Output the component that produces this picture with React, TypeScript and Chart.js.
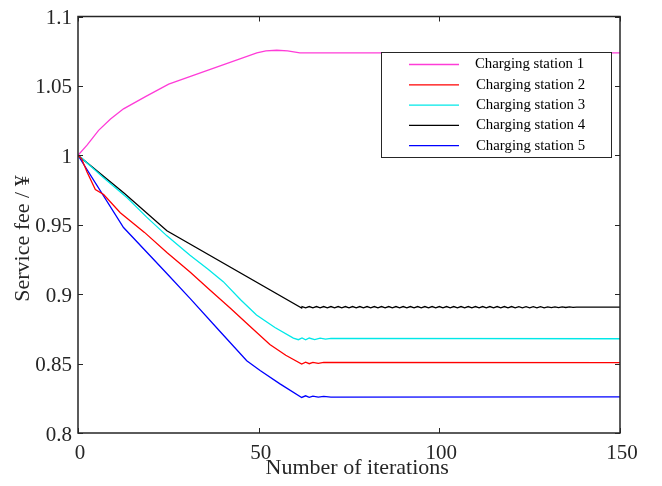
import React, { useEffect, useRef } from "react";
import { Chart, registerables } from "chart.js";

Chart.register(...registerables);

// ---------- data ----------
const seriesLabels = [
  "Charging station 1",
  "Charging station 2",
  "Charging station 3",
  "Charging station 4",
  "Charging station 5",
];
const seriesColors = ["#ff3cd8", "#ff0000", "#00e8e8", "#000000", "#0000ff"];

const xTicks = [0, 50, 100, 150];
const yTicks = [0.8, 0.85, 0.9, 0.95, 1, 1.05, 1.1];

// [iteration, service fee]
const station1: [number, number][] = [
  [0, 1.0], [2.5, 1.0073], [5.7, 1.018], [9, 1.0262], [12.6, 1.0335], [18.8, 1.0425],
  [25.1, 1.0513], [36.6, 1.0619], [49.5, 1.0738], [52, 1.0752], [55, 1.0757],
  [58, 1.0752], [61.4, 1.0738], [150, 1.0738],
];
const station2: [number, number][] = [
  [0, 1.0], [1, 0.9975], [2.5, 0.988], [4.8, 0.9753], [7.1, 0.9718], [11.7, 0.9587],
  [18.4, 0.9445], [24.6, 0.930], [31, 0.916], [36.5, 0.903], [42.1, 0.890],
  [47.5, 0.877], [53.1, 0.8638], [57.5, 0.856], [61.9, 0.8496], [63, 0.851],
  [64, 0.8499], [65, 0.8509], [66.5, 0.8501], [68, 0.8508], [150, 0.8507],
];
const station3: [number, number][] = [
  [0, 1.0], [1, 0.998], [7, 0.984], [13.6, 0.9694], [19, 0.9555], [24.6, 0.942],
  [31, 0.928], [36, 0.918], [40.2, 0.909], [45, 0.896], [49.4, 0.885], [54.5, 0.876],
  [59.6, 0.8683], [61, 0.8672], [62, 0.8685], [63, 0.8671], [64, 0.8684], [65.5, 0.8673],
  [67, 0.8683], [68.5, 0.8676], [70, 0.8681], [150, 0.8679],
];
const station4Head: [number, number][] = [
  [0, 1.0], [12.8, 0.9727], [24.6, 0.9457], [61.9, 0.890],
];
const station4TailStart = 62;
const station4TailFee = [
  0.8911, 0.8901, 0.8911, 0.8901, 0.8911, 0.8901, 0.8911, 0.8901, 0.8911, 0.8901,
  0.8911, 0.8901, 0.8911, 0.8901, 0.8911, 0.8901, 0.8911, 0.8901, 0.8911, 0.8901,
  0.8911, 0.8901, 0.8911, 0.8901, 0.8911, 0.8901, 0.8911, 0.8901, 0.8911, 0.8901,
  0.8911, 0.8901, 0.8911, 0.8901, 0.8911, 0.8901, 0.8911, 0.8901, 0.8911, 0.8901,
  0.8911, 0.8901, 0.8911, 0.8901, 0.8911, 0.8901, 0.8911, 0.8901, 0.8911, 0.8901,
  0.8911, 0.8901, 0.8911, 0.8901, 0.8911, 0.8901, 0.8911, 0.8901, 0.8911, 0.8901,
  0.8910, 0.8902, 0.8910, 0.8902, 0.8910, 0.8902, 0.8910, 0.8902, 0.8909, 0.8903,
  0.8909, 0.8903, 0.8909, 0.8904, 0.8908, 0.8905, 0.8907, 0.8906,
];
const station4End: [number, number][] = [[150, 0.8906]];
const station5: [number, number][] = [
  [0, 1.0], [12.6, 0.948], [24.2, 0.916], [31, 0.897], [39, 0.874], [46.7, 0.852],
  [50.4, 0.845], [55.9, 0.8354], [61.9, 0.8256], [63, 0.8268], [64, 0.8257],
  [65, 0.8266], [66.5, 0.8258], [68, 0.8264], [70, 0.8259], [150, 0.826],
];

const toPoints = (arr: [number, number][]) => arr.map(([x, y]) => ({ x, y }));
const station4Points = [
  ...toPoints(station4Head),
  ...station4TailFee.map((y, i) => ({ x: station4TailStart + i, y })),
  ...toPoints(station4End),
];
const allSeries = [
  toPoints(station1),
  toPoints(station2),
  toPoints(station3),
  station4Points,
  toPoints(station5),
];

const FONT = "'Liberation Serif', 'Times New Roman', serif";
const AXIS_COLOR = "#262626";

const boxPlugin = {
  id: "matlabBox",
  afterDatasetsDraw(chart: any) {
    const { ctx, chartArea: a, scales } = chart;
    ctx.save();
    ctx.strokeStyle = AXIS_COLOR;
    ctx.lineWidth = 1.5;
    ctx.strokeRect(a.left, a.top, a.right - a.left, a.bottom - a.top);
    ctx.lineWidth = 1;
    const tl = 5;
    ctx.beginPath();
    scales.x.ticks.forEach((t: any) => {
      const px = Math.round(scales.x.getPixelForValue(t.value)) + 0.5;
      ctx.moveTo(px, a.bottom);
      ctx.lineTo(px, a.bottom - tl);
      ctx.moveTo(px, a.top);
      ctx.lineTo(px, a.top + tl);
    });
    scales.y.ticks.forEach((t: any) => {
      const py = Math.round(scales.y.getPixelForValue(t.value)) + 0.5;
      ctx.moveTo(a.left, py);
      ctx.lineTo(a.left + tl, py);
      ctx.moveTo(a.right, py);
      ctx.lineTo(a.right - tl, py);
    });
    ctx.stroke();
    ctx.restore();
  },
  afterDraw(chart: any) {
    const { ctx } = chart;
    const bx = 381.5, by = 52.5, bw = 230, bh = 105;
    ctx.save();
    ctx.fillStyle = "#ffffff";
    ctx.fillRect(bx, by, bw, bh);
    ctx.strokeStyle = AXIS_COLOR;
    ctx.lineWidth = 1;
    ctx.strokeRect(bx, by, bw, bh);
    ctx.font = `14.8px ${FONT}`;
    ctx.textBaseline = "middle";
    ctx.textAlign = "left";
    chart.data.datasets.forEach((ds: any, i: number) => {
      const y = by + 12 + i * 20.3;
      ctx.strokeStyle = ds.borderColor;
      ctx.lineWidth = 1.3;
      ctx.beginPath();
      ctx.moveTo(409, y);
      ctx.lineTo(459, y);
      ctx.stroke();
      ctx.fillStyle = "#000000";
      ctx.fillText(ds.label, 475 + (i > 0 ? 1 : 0), y);
    });
    ctx.restore();
  },
};

export default function App() {
  const ref = useRef<HTMLCanvasElement | null>(null);

  useEffect(() => {
    if (!ref.current) return;
    const chart = new Chart(ref.current, {
      type: "line",
      data: {
        datasets: allSeries.map((pts, i) => ({
          label: seriesLabels[i],
          data: pts,
          borderColor: seriesColors[i],
          backgroundColor: seriesColors[i],
          borderWidth: 1.3,
          pointRadius: 0,
          tension: 0,
          fill: false,
        })),
      },
      options: {
        animation: false,
        responsive: false,
        maintainAspectRatio: false,
        layout: { padding: { top: 11, right: 42, left: 0, bottom: 0 } },
        plugins: { legend: { display: false }, tooltip: { enabled: false } },
        scales: {
          x: {
            type: "linear",
            min: 0,
            max: 150,
            afterFit: (s: any) => {
              s.height = 53;
            },
            afterBuildTicks: (s: any) => {
              s.ticks = xTicks.map((v) => ({ value: v }));
            },
            grid: { display: false, drawTicks: false },
            border: { display: false },
            ticks: {
              color: AXIS_COLOR,
              font: { family: FONT, size: 21, lineHeight: 1 },
              padding: 10,
              labelOffset: 2,
              maxRotation: 0,
              autoSkip: false,
            },
            title: {
              display: true,
              text: "   Number of iterations",
              color: AXIS_COLOR,
              font: { family: FONT, size: 22, lineHeight: 1.2 },
              padding: { top: 0, bottom: 5 },
            },
          },
          y: {
            type: "linear",
            min: 0.8,
            max: 1.1,
            afterFit: (s: any) => {
              s.width = 78;
            },
            afterBuildTicks: (s: any) => {
              s.ticks = yTicks.map((v) => ({ value: v }));
            },
            grid: { display: false, drawTicks: false },
            border: { display: false },
            ticks: {
              color: AXIS_COLOR,
              font: { family: FONT, size: 21, lineHeight: 1 },
              padding: 6,
              labelOffset: 2,
              autoSkip: false,
              callback: (v: any) => String(Number(Number(v).toFixed(2))),
            },
            title: {
              display: true,
              text: "Service fee / ¥     ",
              color: AXIS_COLOR,
              font: { family: FONT, size: 22, lineHeight: 1.2 },
              padding: { top: 10, bottom: 0 },
            },
          },
        },
      },
      plugins: [boxPlugin],
    });
    return () => chart.destroy();
  }, []);

  return (
    <div style={{ position: "fixed", left: 0, top: 0, width: 662, height: 486, background: "#ffffff" }}>
      <canvas ref={ref} width={662} height={486} style={{ display: "block" }} />
    </div>
  );
}
